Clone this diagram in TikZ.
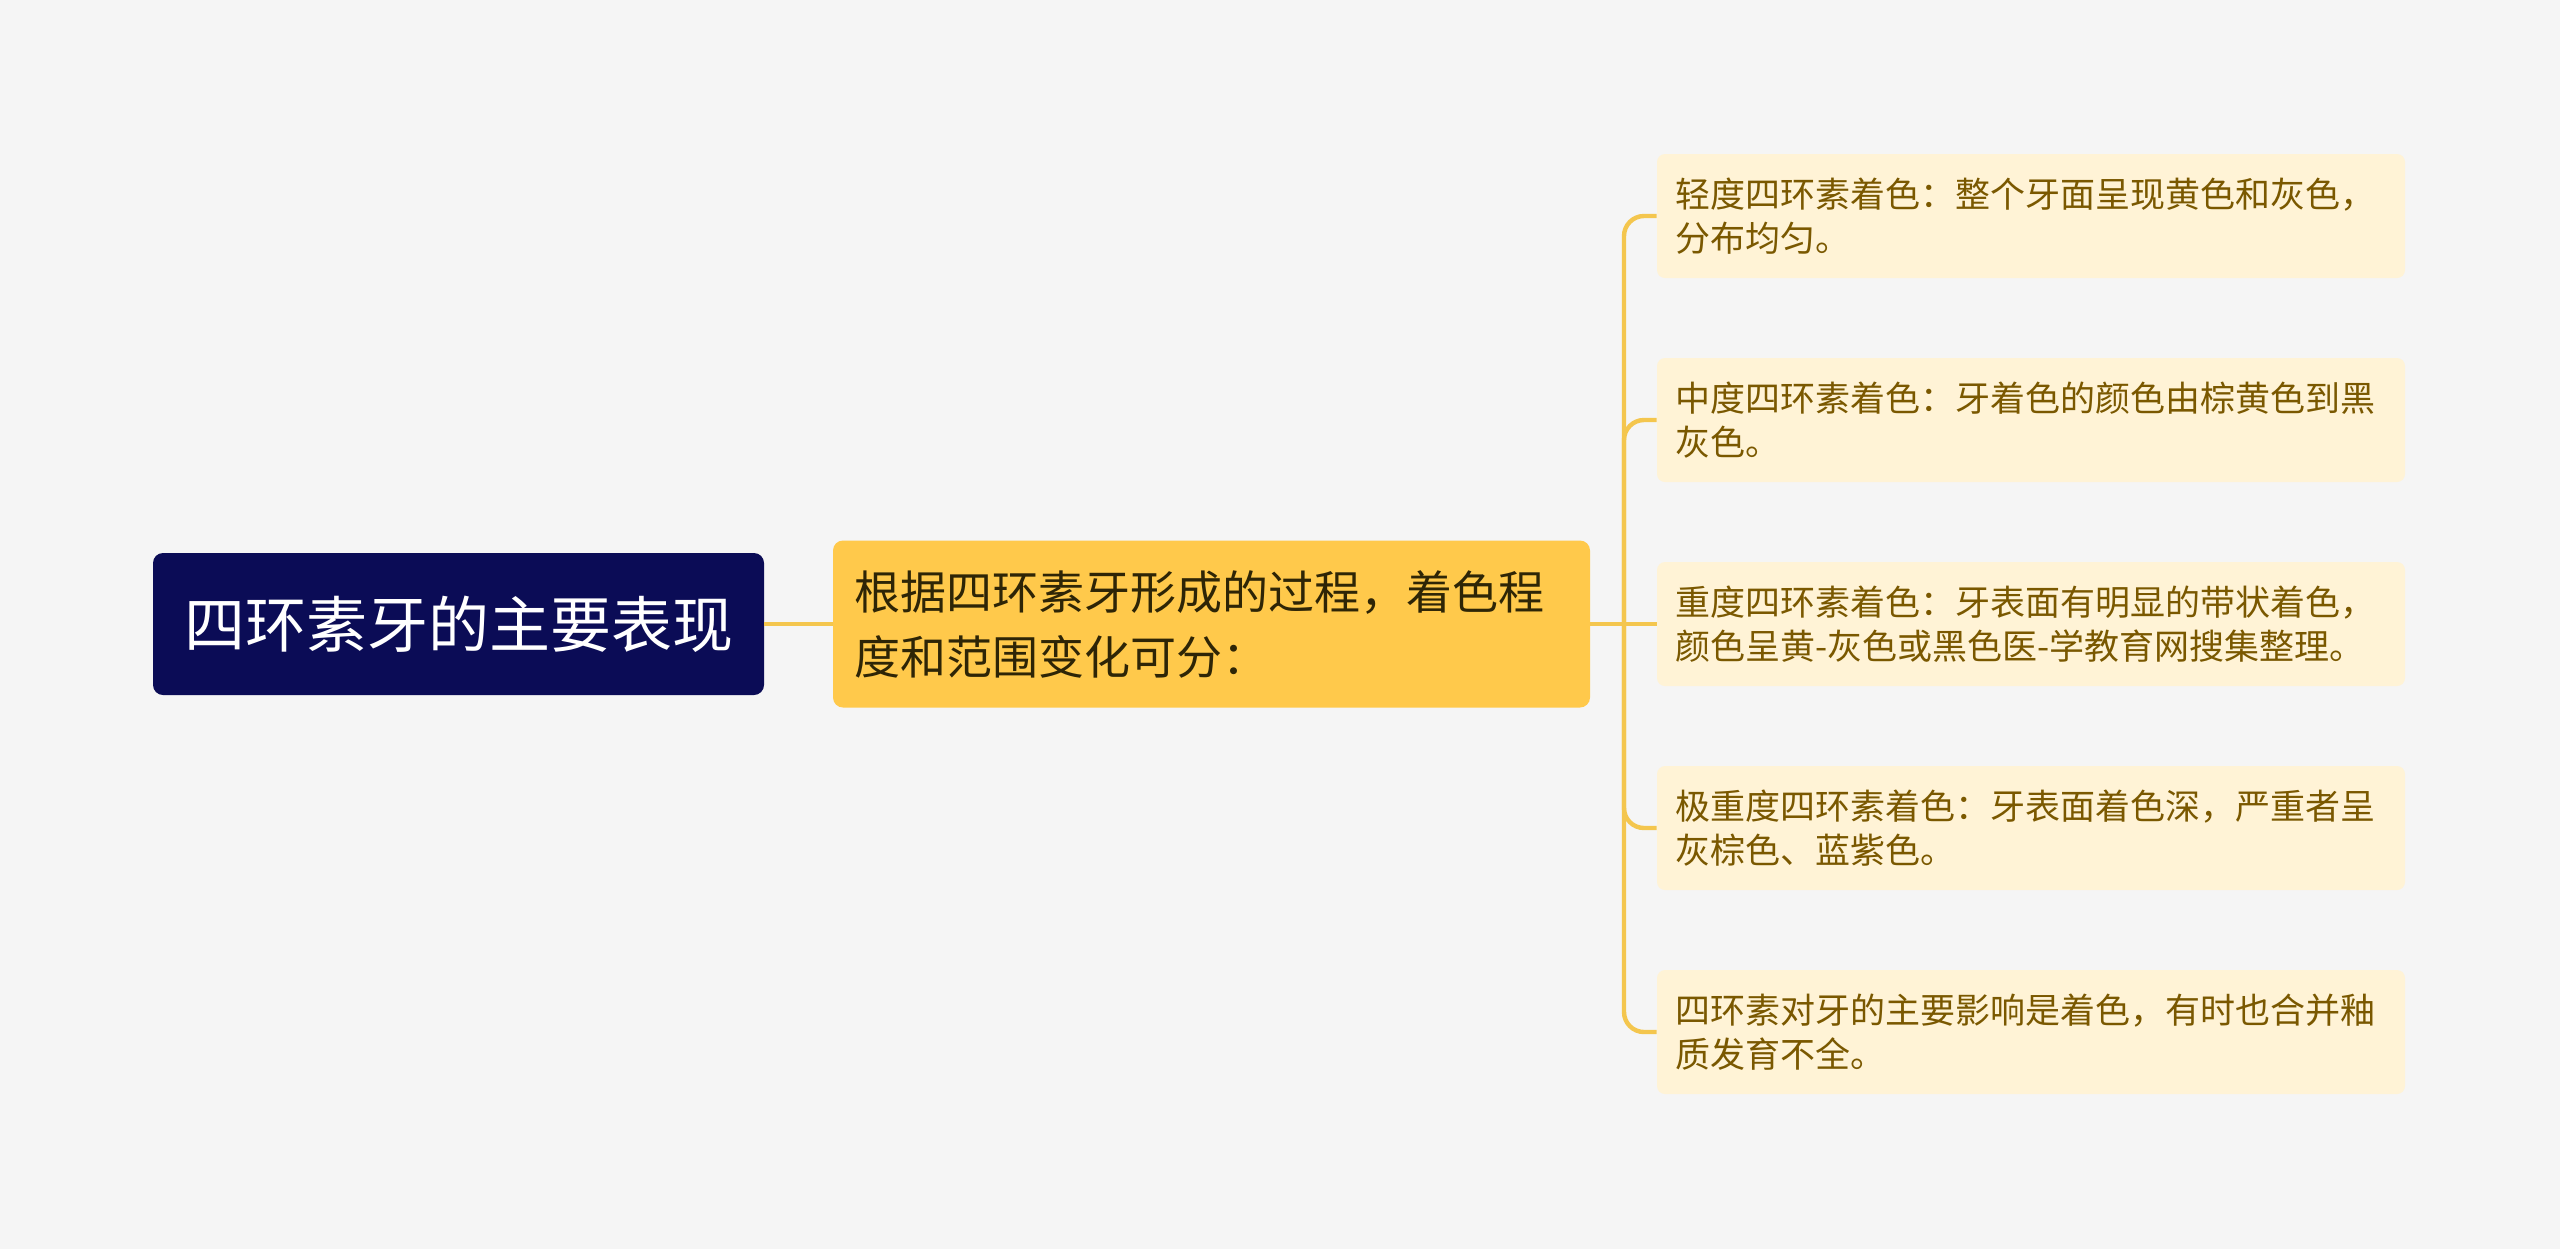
\documentclass[tikz,border=0pt]{standalone}
\usepackage{fontspec}
\setmainfont{Noto Sans CJK SC}
\definecolor{bgcol}{HTML}{F5F5F5}
\definecolor{rootcol}{HTML}{0B0C56}
\definecolor{midcol}{HTML}{FFC94B}
\definecolor{leafcol}{HTML}{FFF3D6}
\definecolor{leaftext}{HTML}{7A5800}
\definecolor{midtext}{HTML}{2E2506}
\definecolor{linkcol}{HTML}{F4C64E}
\begin{document}
\begin{tikzpicture}[x=0.5pt,y=-0.5pt,
  rootbox/.style={fill=rootcol, text=white, rounded corners=5pt,
    minimum width=305.5pt, minimum height=71pt, inner sep=0pt,
    font=\fontsize{30.5pt}{36pt}\selectfont},
  midbox/.style={fill=midcol, text=midtext, rounded corners=5pt,
    minimum width=378.5pt, minimum height=83.5pt, inner xsep=10.5pt, inner ysep=0pt,
    text width=357.5pt, align=left,
    font=\fontsize{23pt}{32.5pt}\selectfont},
  leafbox/.style={fill=leafcol, text=leaftext, rounded corners=4pt,
    minimum width=374pt, minimum height=62pt, inner xsep=9pt, inner ysep=0pt,
    text width=356pt, align=left,
    font=\fontsize{17.5pt}{22pt}\selectfont},
  link/.style={draw=linkcol, line width=2.2pt}]
% Background
\fill[bgcol] (0,0) rectangle (2560,1249);
\useasboundingbox (0,0) rectangle (2560,1249);

% Root and main branch
\node[rootbox] (root) at (458.5,624) {四环素牙的主要表现};
\node[midbox] (mid) at (1211.5,624) {根据四环素牙形成的过程，着色程\\度和范围变化可分：};

% Leaves
\node[leafbox] (light) at (2031,216) {轻度四环素着色：整个牙面呈现黄色和灰色，\\分布均匀。};
\node[leafbox] (medium) at (2031,420) {中度四环素着色：牙着色的颜色由棕黄色到黑\\灰色。};
\node[leafbox] (heavy) at (2031,624) {重度四环素着色：牙表面有明显的带状着色，\\颜色呈黄-灰色或黑色医-学教育网搜集整理。};
\node[leafbox] (severe) at (2031,828) {极重度四环素着色：牙表面着色深，严重者呈\\灰棕色、蓝紫色。};
\node[leafbox] (effect) at (2031,1032) {四环素对牙的主要影响是着色，有时也合并釉\\质发育不全。};

% Connectors
\coordinate (fork) at (1624,624);
\draw[link] (root.east) -- (mid.west);
\draw[link] (mid.east) -- (heavy.west);
\foreach \leaf in {light,medium,severe,effect}
  \draw[link, rounded corners=10pt] (fork) |- (\leaf.west);
\end{tikzpicture}
\end{document}
